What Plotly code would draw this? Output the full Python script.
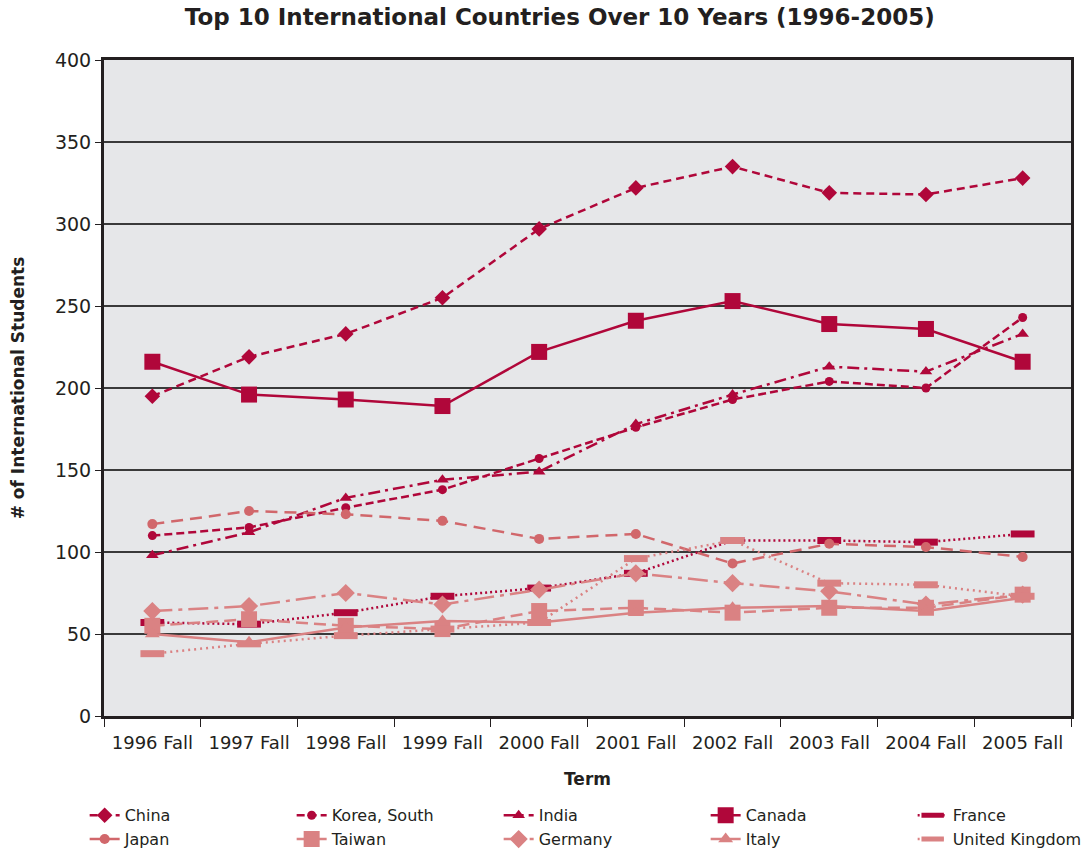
import plotly.graph_objects as go

terms = ["1996 Fall", "1997 Fall", "1998 Fall", "1999 Fall", "2000 Fall",
         "2001 Fall", "2002 Fall", "2003 Fall", "2004 Fall", "2005 Fall"]

china = [195, 219, 233, 255, 297, 322, 335, 319, 318, 328]
korea = [110, 115, 127, 138, 157, 176, 193, 204, 200, 243]
india = [98, 112, 133, 144, 149, 178, 196, 213, 210, 233]
canada = [216, 196, 193, 189, 222, 241, 253, 239, 236, 216]
france = [57, 56, 63, 73, 78, 87, 107, 107, 106, 111]
japan = [117, 125, 123, 119, 108, 111, 93, 105, 103, 97]
taiwan = [55, 59, 55, 53, 64, 66, 63, 66, 66, 74]
germany = [64, 67, 75, 68, 77, 87, 81, 76, 68, 74]
italy = [50, 45, 54, 58, 57, 63, 66, 67, 64, 72]
uk = [38, 44, 49, 53, 57, 96, 107, 81, 80, 73]

DARK = "#B0073A"
LIGHT = "#DA8283"
MID = "#D1676B"

series = [
    ("China", china, DARK, "8px,5px", "diamond", 12),
    ("Korea, South", korea, DARK, "8px,4px", "circle", 9),
    ("India", india, DARK, "12px,5px,3px,5px", "triangle-up", 11),
    ("Canada", canada, DARK, "solid", "square", 16),
    ("France", france, DARK, "2px,3px", "line-ew", 17),
    ("Japan", japan, MID, "12px,7px", "circle", 10),
    ("Taiwan", taiwan, LIGHT, "12px,6px", "square", 16),
    ("Germany", germany, LIGHT, "20px,6px,4px,6px", "diamond", 14),
    ("Italy", italy, LIGHT, "solid", "triangle-up", 13),
    ("United Kingdom", uk, LIGHT, "2px,4px", "line-ew", 17),
]

fig = go.Figure()
for name, vals, col, dash, sym, size in series:
    marker = dict(symbol=sym, size=size, color=col)
    if sym == "line-ew":
        marker = dict(symbol=sym, size=size, color=col, line=dict(color=col, width=7))
    fig.add_trace(go.Scatter(
        x=terms, y=vals, name=name, mode="lines+markers",
        line=dict(color=col, width=2.5, dash=dash),
        marker=marker,
    ))

FONT = "DejaVu Sans, Verdana, sans-serif"

fig.update_layout(
    width=1089, height=854,
    margin=dict(l=104, r=18, t=60, b=138, autoexpand=False),
    paper_bgcolor="white",
    plot_bgcolor="#E6E7E9",
    font=dict(family=FONT, size=16, color="#231F20"),
    title=dict(text="<b>Top 10 International Countries Over 10 Years (1996-2005)</b>",
               x=0.514, xanchor="center", y=0.99, yanchor="top",
               font=dict(size=23, color="#231F20")),
    showlegend=True,
    legend=dict(orientation="h", x=-0.02, xanchor="left", y=-0.1255, yanchor="top",
                entrywidth=162, entrywidthmode="pixels",
                font=dict(size=16, color="#231F20"),
                tracegroupgap=0, itemsizing="trace", bgcolor="rgba(0,0,0,0)"),
)

fig.update_xaxes(
    type="category", range=[-0.5, 9.5],
    showline=True, linecolor="#231F20", linewidth=3, mirror=True,
    ticks="outside", tickson="boundaries", ticklen=8, tickcolor="#231F20",
    ticklabelstandoff=8,
    showgrid=False,
    title=dict(text="<b>Term</b>", font=dict(size=17), standoff=22),
    tickfont=dict(size=18),
)
fig.update_yaxes(
    range=[0, 400], dtick=50,
    showline=True, linecolor="#231F20", linewidth=3, mirror=True,
    ticks="outside", ticklen=6, tickcolor="#231F20",
    showgrid=True, gridcolor="#3A3A3A", gridwidth=1.5,
    zeroline=False,
    title=dict(text="<b># of International Students</b>", font=dict(size=17), standoff=26),
    tickfont=dict(size=19),
)

fig.write_html("out.html")
